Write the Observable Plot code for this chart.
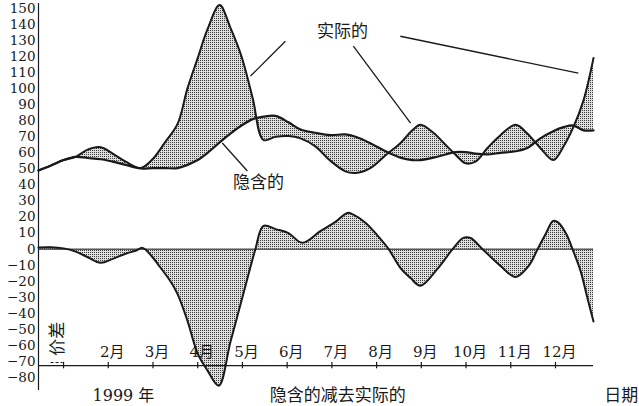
<!DOCTYPE html>
<html><head><meta charset="utf-8">
<script src="https://cdn.jsdelivr.net/npm/d3@7"></script>
<script src="https://cdn.jsdelivr.net/npm/@observablehq/plot@0.6"></script>
<style>body{margin:0;background:#fff} svg{display:block}</style>
</head><body><div id="chart"></div>
<script>
// x in months of 1999 (1 = start of January)
const months = [0.44,0.71,1.00,1.27,1.54,1.83,2.10,2.39,2.72,2.99,3.28,3.55,3.77,4.00,4.22,4.49,4.73,4.98,5.23,5.47,5.74,6.03,6.30,6.63,6.97,7.30,7.53,7.86,8.20,8.53,8.80,8.98,9.27,9.54,9.76,9.99,10.21,10.48,10.77,11.11,11.37,11.66,11.95,12.18,12.40,12.63,12.85];
const actual = [49,52,55.5,57.5,62,63.5,59.5,54.5,50.5,56,67,78,100,119,137,152,138,120,94,68,70,70.5,69,64,55,48.5,47.5,50.5,58.5,66,74,77.5,72.5,65,59,53.5,54.5,63,71,77.5,72,63,55.5,64,76,93,119];
const implied = [49,52,55.5,57.5,56.8,56,54.5,52.5,50.3,50.5,50.5,50.5,52.5,55.5,60,66.5,72,77,81,82.5,83,79,74.5,72.5,71,71.5,70,66,61,57,55.5,55.5,57,59,60.5,60.5,59.5,59,60,61,63,69,73.5,76,77,74,74];
const spreadMonths = [0.44,0.71,1.00,1.27,1.54,1.83,2.10,2.39,2.61,2.77,2.99,3.10,3.39,3.55,3.77,4.00,4.22,4.47,4.73,4.98,5.18,5.29,5.47,5.74,6.03,6.34,6.75,7.08,7.35,7.48,7.75,8.02,8.27,8.53,8.76,8.98,9.36,9.70,9.94,10.10,10.37,10.77,11.11,11.40,11.60,11.78,11.95,12.07,12.25,12.38,12.56,12.71,12.85];
const spread = [1,1.2,0.5,-1.5,-5,-8.5,-6,-2.8,-1,0.8,-5,-9,-20,-28,-44.5,-65,-75.6,-85,-58,-32,-11,0,14.5,12.5,10,4,11.4,17,22.6,21.5,16.5,8.5,0,-11.6,-18,-22.8,-12.3,0,7,7,0,-10.4,-17.3,-10.4,0,9.5,17.6,16.4,9,0,-13.5,-30,-45];
const tickMonths = [1,2,3,4,5,6,7,8,9,10,11,12];
const labelMonths = [2,3,4,5,6,7,8,9,10,11,12];
const yTicks = d3.range(-80, 151, 10);

const rows = months.map((m, i) => ({m, actual: actual[i], implied: implied[i]}));
const srows = spreadMonths.map((m, i) => ({m, s: spread[i]}));
const xmin = 0.44, xmax = 12.85;
const serif = "'DejaVu Serif', 'Noto Sans CJK SC', serif";
const cjk = "'Noto Sans CJK SC', sans-serif";
const ink = "#1a1a1a";
const curve = "catmull-rom";
const fmt = d => d < 0 ? "\u2212" + (-d) : String(d);

const svg = Plot.plot({
  width: 639, height: 406,
  marginLeft: 38, marginRight: 46, marginTop: 3, marginBottom: 16,
  x: {domain: [xmin, xmax], axis: null},
  y: {domain: [-88, 153], axis: null},
  style: {fontFamily: serif, background: "#fff", color: ink, overflow: "visible"},
  marks: [
    Plot.areaY(rows, {x: "m", y1: "implied", y2: "actual", fill: "url(#dots)", curve}),
    Plot.areaY(srows, {x: "m", y: "s", fill: "url(#dots)", curve}),
    Plot.ruleY([0], {x1: xmin, x2: xmax, stroke: ink, strokeWidth: 1}),
    Plot.ruleX([xmin], {y1: -88, y2: 153, stroke: ink, strokeWidth: 1.2}),
    Plot.ruleY([-72.5], {x1: xmin, x2: xmax, stroke: ink, strokeWidth: 1.2}),
    Plot.ruleX(tickMonths, {x: d => d, y1: -74.5, y2: -70.5, stroke: ink, strokeWidth: 1.2}),
    Plot.link([0], {x1: 0.71, x2: 0.98, y1: -70.6, y2: -70.6, stroke: ink, strokeDasharray: "3,2"}),
    Plot.text(yTicks, {x: xmin, y: d => d, text: fmt, textAnchor: "end", dx: -3, fontSize: 13.5, fontFamily: serif, fill: ink}),
    Plot.text(labelMonths, {x: d => d, y: -64, text: d => d + "月", dx: 4, fontSize: 15, fontFamily: serif, fill: ink}),
    Plot.line(rows, {x: "m", y: "implied", stroke: ink, strokeWidth: 2.2, curve}),
    Plot.line(rows, {x: "m", y: "actual", stroke: ink, strokeWidth: 2, curve}),
    Plot.line(srows, {x: "m", y: "s", stroke: ink, strokeWidth: 2, curve}),
    Plot.link([0], {x1: 5.96, y1: 129.5, x2: 5.18, y2: 107.8, stroke: ink, strokeWidth: 1.3}),
    Plot.link([0], {x1: 7.48, y1: 126.4, x2: 8.76, y2: 78.5, stroke: ink, strokeWidth: 1.3}),
    Plot.link([0], {x1: 8.53, y1: 132.6, x2: 12.51, y2: 109.6, stroke: ink, strokeWidth: 1.3}),
    Plot.link([0], {x1: 5.11, y1: 48.7, x2: 4.55, y2: 66.1, stroke: ink, strokeWidth: 1.3}),
    Plot.text([0], {x: 7.24, y: 135.7, text: () => "实际的", fontSize: 17, fontFamily: cjk, fill: ink}),
    Plot.text([0], {x: 5.36, y: 41.2, text: () => "隐含的", fontSize: 17, fontFamily: cjk, fill: ink}),
    Plot.text([0], {x: 2.34, y: -91.2, text: () => "1999 年", fontSize: 16, fontFamily: serif, fill: ink}),
    Plot.text([0], {x: 7.13, y: -91.2, text: () => "隐含的减去实际的", fontSize: 17, fontFamily: cjk, fill: ink}),
    Plot.text([0], {x: 13.47, y: -91.2, text: () => "日期", fontSize: 17, fontFamily: cjk, fill: ink}),
    Plot.text([0], {x: 0.87, y: -55.7, text: () => "价差", rotate: -90, fontSize: 17, fontFamily: cjk, fill: ink})
  ]
});
const defs = document.createElementNS("http://www.w3.org/2000/svg", "defs");
defs.innerHTML = '<pattern id="dots" width="2" height="2" patternUnits="userSpaceOnUse"><rect width="2" height="2" fill="#dedede"/><rect width="1" height="1" fill="#3a3a3a"/></pattern>';
svg.insertBefore(defs, svg.firstChild);
document.getElementById("chart").appendChild(svg);
</script>
</body></html>
